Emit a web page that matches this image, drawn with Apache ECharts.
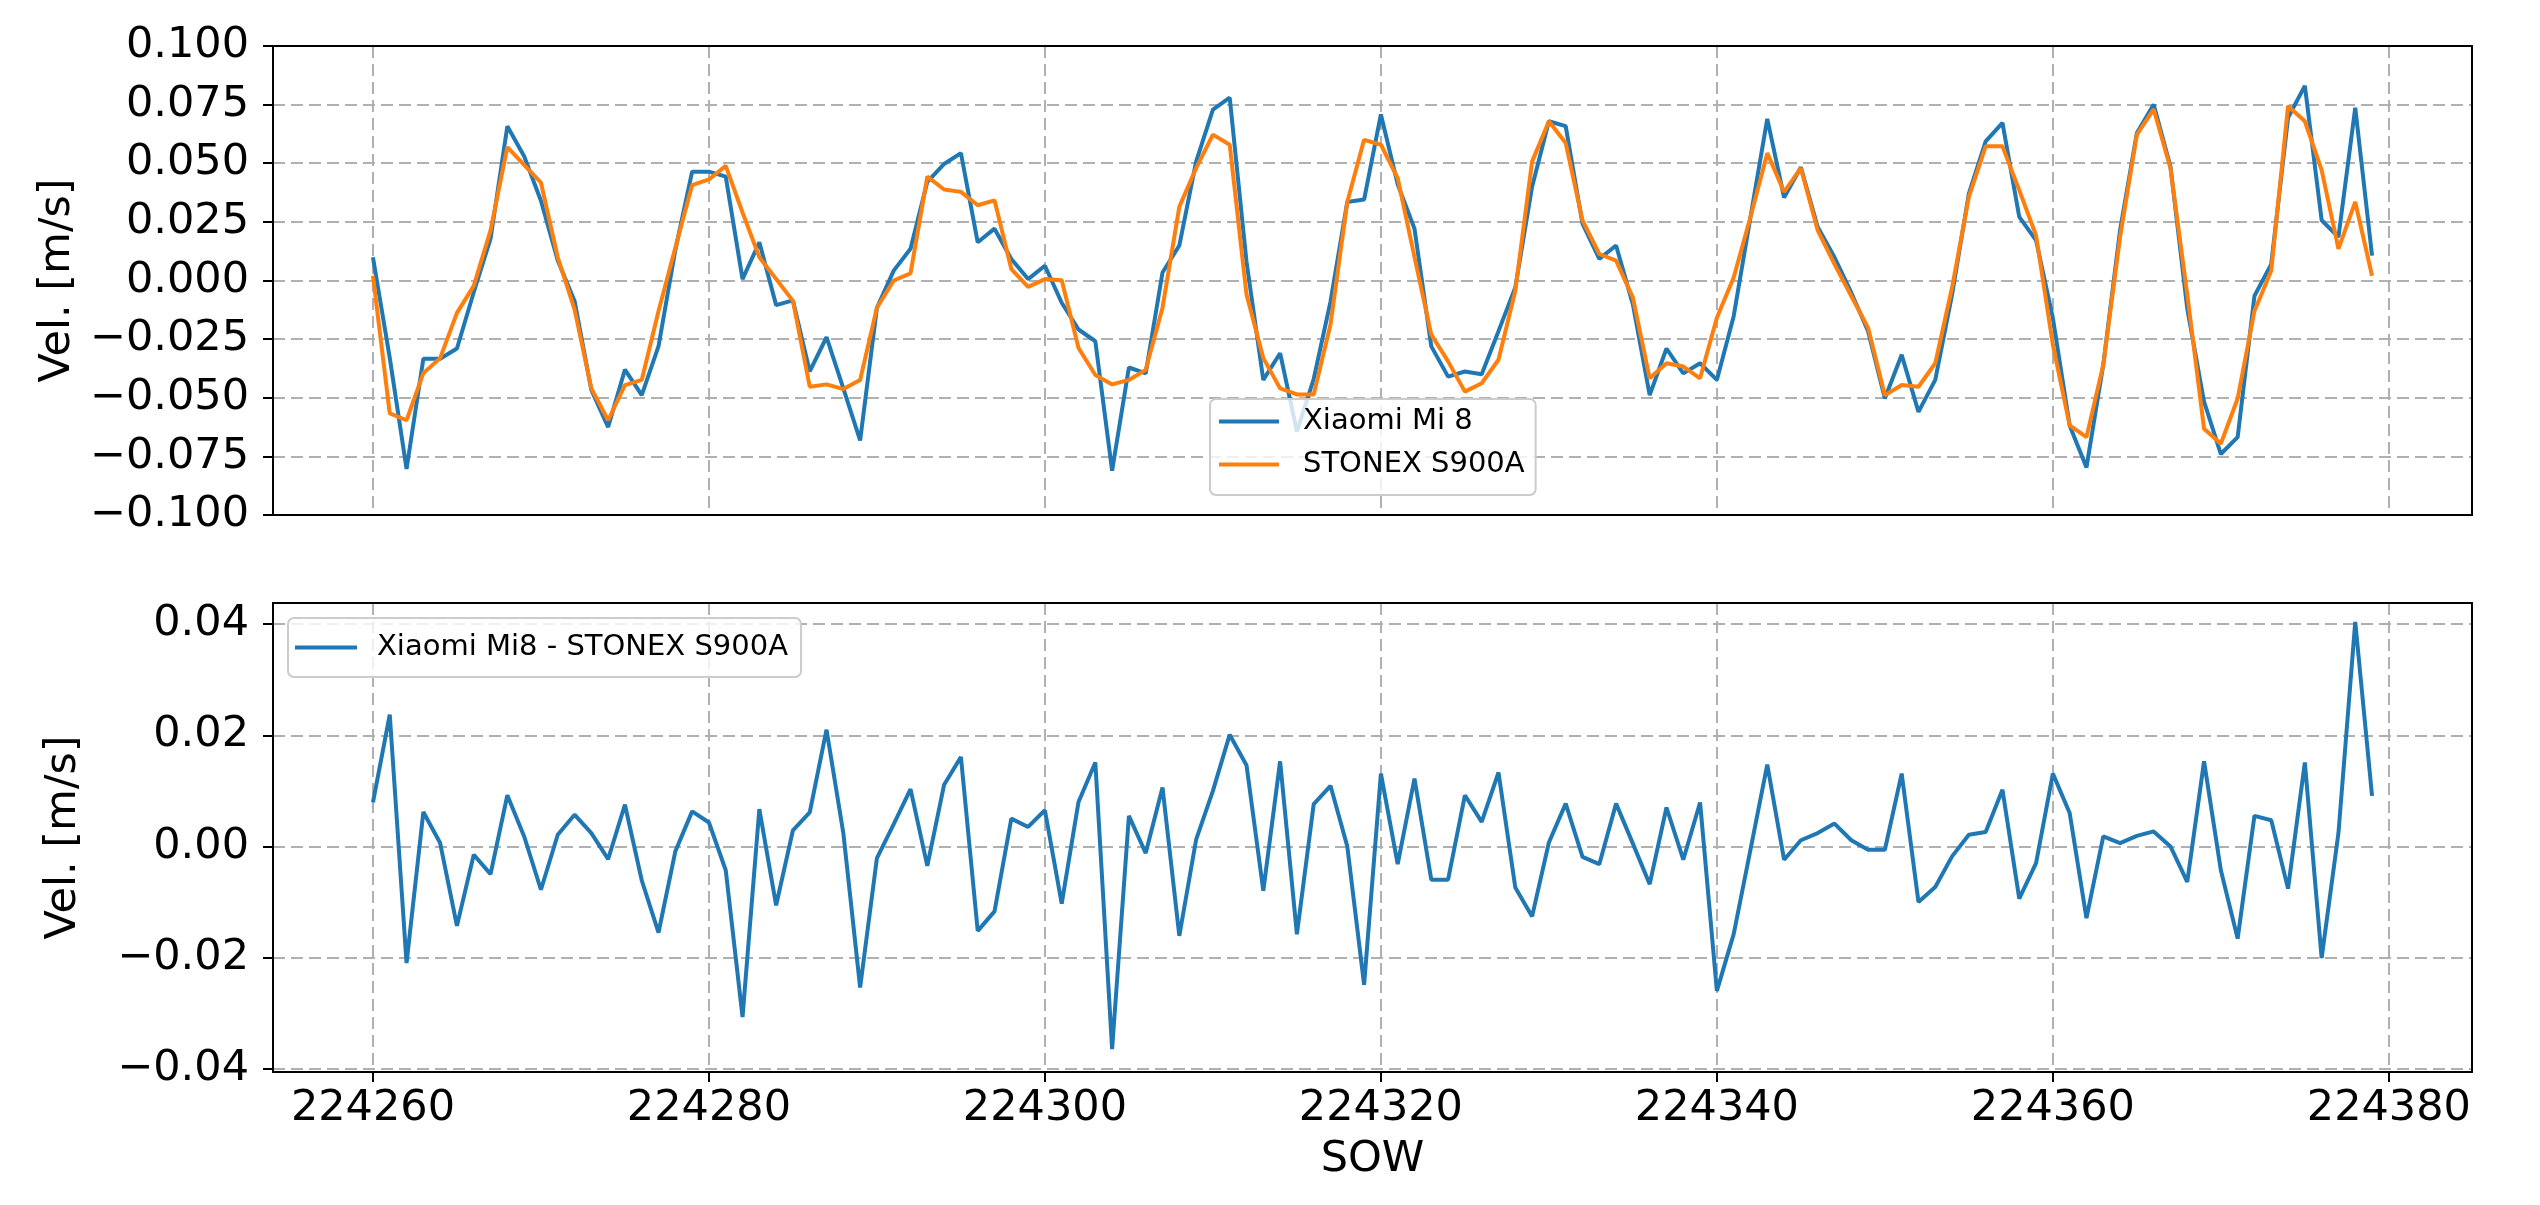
<!DOCTYPE html>
<html>
<head>
<meta charset="utf-8">
<script src="https://cdn.jsdelivr.net/npm/echarts@6/dist/echarts.min.js"></script>
<style>
html,body{margin:0;padding:0;background:#fff;}
#chart{width:2540px;height:1205px;}
</style>
</head>
<body>
<div id="chart"></div>
<script>
const sow = [
224260,224261,224262,224263,224264,224265,224266,224267,224268,224269,
224270,224271,224272,224273,224274,224275,224276,224277,224278,224279,
224280,224281,224282,224283,224284,224285,224286,224287,224288,224289,
224290,224291,224292,224293,224294,224295,224296,224297,224298,224299,
224300,224301,224302,224303,224304,224305,224306,224307,224308,224309,
224310,224311,224312,224313,224314,224315,224316,224317,224318,224319,
224320,224321,224322,224323,224324,224325,224326,224327,224328,224329,
224330,224331,224332,224333,224334,224335,224336,224337,224338,224339,
224340,224341,224342,224343,224344,224345,224346,224347,224348,224349,
224350,224351,224352,224353,224354,224355,224356,224357,224358,224359,
224360,224361,224362,224363,224364,224365,224366,224367,224368,224369,
224370,224371,224372,224373,224374,224375,224376,224377,224378,224379
];

const xiaomi = [
0.0099,-0.033,-0.0804,-0.0334,-0.0334,-0.029,-0.005,0.0178,0.0658,0.053,
0.034,0.0085,-0.0087,-0.0467,-0.0625,-0.038,-0.0489,-0.028,0.013,0.0464,
0.0464,0.0443,0.0006,0.0163,-0.0105,-0.0085,-0.0388,-0.0242,-0.046,-0.0682,
-0.0116,0.0042,0.0135,0.0421,0.0497,0.0543,0.0163,0.0221,0.0092,0.0006,
0.0063,-0.0095,-0.0209,-0.0259,-0.0811,-0.0371,-0.0396,0.0034,0.0149,0.0507,
0.0729,0.078,0.008,-0.0424,-0.031,-0.0644,-0.042,-0.009,0.0335,0.0345,
0.0708,0.041,0.0221,-0.0281,-0.041,-0.0388,-0.040,-0.0216,-0.003,0.040,
0.0679,0.0658,0.0242,0.0092,0.0149,-0.0102,-0.0489,-0.029,-0.0396,-0.0353,
-0.0424,-0.0152,0.027,0.0689,0.0354,0.0483,0.0228,0.0099,-0.0052,-0.0216,
-0.0503,-0.0317,-0.056,-0.0424,-0.006,0.0371,0.0593,0.0672,0.0271,0.0171,
-0.016,-0.0618,-0.0797,-0.036,0.0214,0.0629,0.075,0.0486,-0.012,-0.0517,
-0.074,-0.0668,-0.0066,0.007,0.0694,0.083,0.0257,0.0185,0.0737,0.0106
];

const stonex = [
0.002,-0.0567,-0.0596,-0.0395,-0.0331,-0.0138,-0.0023,0.0214,0.0569,0.0493,
0.0417,0.0099,-0.0123,-0.046,-0.0596,-0.0446,-0.0424,-0.013,0.014,0.0407,
0.0431,0.0489,0.029,0.0099,0.0006,-0.0087,-0.0453,-0.0443,-0.0463,-0.0424,
-0.0116,0.0,0.003,0.0443,0.0388,0.0378,0.0321,0.0342,0.0049,-0.0027,
0.0006,0.0001,-0.0288,-0.0403,-0.0443,-0.0424,-0.0381,-0.0116,0.0314,0.0479,
0.0622,0.0579,-0.006,-0.0331,-0.046,-0.0486,-0.0486,-0.0188,0.0335,0.06,
0.0579,0.0436,0.010,-0.0231,-0.0345,-0.0474,-0.0438,-0.0338,-0.0044,0.0507,
0.0679,0.0586,0.0256,0.0113,0.0085,-0.0073,-0.0417,-0.0353,-0.0367,-0.0417,
-0.0159,0.0013,0.0271,0.0543,0.0378,0.0479,0.0214,0.007,-0.0066,-0.0202,
-0.0489,-0.0446,-0.0453,-0.0353,-0.003,0.0357,0.0572,0.0572,0.0385,0.0192,
-0.0274,-0.0618,-0.0668,-0.036,0.0185,0.0622,0.073,0.0479,-0.006,-0.0632,
-0.0696,-0.0503,-0.013,0.0042,0.0744,0.0679,0.0471,0.0135,0.0335,0.002
];

const diff = [
0.0079,0.0237,-0.021,0.0062,0.0006,-0.0143,-0.0015,-0.005,0.0092,0.0018,
-0.0078,0.0021,0.0057,0.0024,-0.0023,0.0075,-0.0061,-0.0155,-0.0009,0.0063,
0.0043,-0.0043,-0.0307,0.0067,-0.0106,0.0029,0.0061,0.021,0.0024,-0.0254,
-0.0021,0.004,0.0103,-0.0035,0.0111,0.0161,-0.0152,-0.0117,0.005,0.0035,
0.0065,-0.0103,0.008,0.0151,-0.0365,0.0055,-0.0012,0.0106,-0.0161,0.0012,
0.010,0.0201,0.0146,-0.008,0.0153,-0.0158,0.0076,0.0109,0.0,-0.0249,
0.0131,-0.0032,0.0122,-0.006,-0.006,0.0092,0.0044,0.0133,-0.0074,-0.0126,
0.0007,0.0077,-0.0019,-0.0032,0.0077,0.0005,-0.0068,0.007,-0.0024,0.0079,
-0.026,-0.0158,-0.0006,0.0147,-0.0024,0.0011,0.0024,0.0041,0.0011,-0.0006,
-0.0006,0.0131,-0.01,-0.0073,-0.0018,0.0021,0.0026,0.0102,-0.0094,-0.003,
0.0131,0.006,-0.0129,0.0018,0.0006,0.0019,0.0027,0.0,-0.0064,0.0153,
-0.0043,-0.0166,0.0055,0.0047,-0.0076,0.0151,-0.0201,0.0024,0.0404,0.0091
];

const seriesNames = ['Xiaomi Mi 8', 'STONEX S900A', 'Xiaomi Mi8 - STONEX S900A'];
const yTitle = 'Vel. [m/s]';
const xTitle = 'SOW';

const FONT = 'DejaVu Sans';
const pair = (arr) => arr.map((v, i) => [sow[i], v]);
const fmt = (d) => (v) => {
  const s = Math.abs(v).toFixed(d);
  return (v < 0 && parseFloat(s) !== 0 ? '\u2212' : '') + s;
};

const GRID_LEFT = 273, GRID_RIGHT = 68;
const gridLine = { show: true, showMinLine: false, showMaxLine: false,
  lineStyle: { color: '#b0b0b0', width: 2, type: [12, 6] } };
const axisLineStyle = { show: true, onZero: false, lineStyle: { color: '#000', width: 2 } };
const tickStyle = { show: true, inside: false, length: 10, lineStyle: { color: '#000', width: 2 } };
const labelStyle = { color: '#000', fontSize: 43, fontFamily: FONT };
const nameStyle = { color: '#000', fontSize: 43, fontFamily: FONT };

const xBase = {
  type: 'value', min: 224254.05, max: 224384.95,
  splitNumber: 6, minInterval: 20, maxInterval: 20,
  splitLine: gridLine, axisLine: axisLineStyle
};
// frame-only axes (top and right spines)
const frameX = (g) => ({ gridIndex: g, type: 'value', position: 'top', min: 0, max: 1,
  axisLine: axisLineStyle, axisTick: { show: false }, axisLabel: { show: false }, splitLine: { show: false } });
const frameY = (g) => ({ gridIndex: g, type: 'value', position: 'right', min: 0, max: 1,
  axisLine: axisLineStyle, axisTick: { show: false }, axisLabel: { show: false }, splitLine: { show: false } });

const legendText = (pad) => ({ color: '#000', fontSize: 29, fontFamily: FONT, padding: [0, 0, 0, pad] });
const legendBox = {
  orient: 'vertical', icon: 'rect', itemHeight: 4, itemGap: 14,
  backgroundColor: 'rgba(255,255,255,0.8)', borderColor: '#cccccc', borderWidth: 2, borderRadius: 6
};

const option = {
  animation: false,
  backgroundColor: '#fff',
  textStyle: { fontFamily: FONT },
  grid: [
    { left: GRID_LEFT, right: GRID_RIGHT, top: 46, height: 469 },
    { left: GRID_LEFT, right: GRID_RIGHT, top: 603, height: 469 }
  ],
  xAxis: [
    Object.assign({}, xBase, { gridIndex: 0, axisTick: { show: false }, axisLabel: { show: false } }),
    Object.assign({}, xBase, {
      gridIndex: 1, axisTick: tickStyle,
      axisLabel: Object.assign({ margin: 15, formatter: (v) => String(Math.round(v)) }, labelStyle),
      name: xTitle, nameLocation: 'middle', nameGap: 66, nameTextStyle: nameStyle
    }),
    frameX(0), frameX(1)
  ],
  yAxis: [
    {
      gridIndex: 0, type: 'value', min: -0.1, max: 0.1, interval: 0.025,
      splitLine: gridLine, axisLine: axisLineStyle, axisTick: tickStyle,
      axisLabel: Object.assign({ margin: 24, formatter: fmt(3) }, labelStyle),
      name: yTitle, nameLocation: 'middle', nameGap: 188, nameTextStyle: nameStyle
    },
    {
      gridIndex: 1, type: 'value', min: -0.0406, max: 0.0438,
      splitNumber: 4, minInterval: 0.02, maxInterval: 0.02,
      splitLine: gridLine, axisLine: axisLineStyle, axisTick: tickStyle,
      axisLabel: Object.assign({ margin: 24, formatter: fmt(2) }, labelStyle),
      name: yTitle, nameLocation: 'middle', nameGap: 188, nameTextStyle: nameStyle
    },
    frameY(0), frameY(1)
  ],
  legend: [
    Object.assign({}, legendBox, { data: [seriesNames[0], seriesNames[1]], left: 1210, top: 399,
      itemWidth: 60, padding: [8, 11, 16, 9], textStyle: legendText(19) }),
    Object.assign({}, legendBox, { data: [seriesNames[2]], left: 288, top: 618,
      itemWidth: 62, padding: [15, 13, 15, 7], textStyle: legendText(15) })
  ],
  series: [
    { name: seriesNames[0], type: 'line', xAxisIndex: 0, yAxisIndex: 0, data: pair(xiaomi),
      showSymbol: false, symbol: 'none', color: '#1f77b4', lineStyle: { width: 4, color: '#1f77b4' } },
    { name: seriesNames[1], type: 'line', xAxisIndex: 0, yAxisIndex: 0, data: pair(stonex),
      showSymbol: false, symbol: 'none', color: '#ff7f0e', lineStyle: { width: 4, color: '#ff7f0e' } },
    { name: seriesNames[2], type: 'line', xAxisIndex: 1, yAxisIndex: 1, data: pair(diff),
      showSymbol: false, symbol: 'none', color: '#1f77b4', lineStyle: { width: 4, color: '#1f77b4' } }
  ]
};

const chart = echarts.init(document.getElementById('chart'), null, { renderer: 'canvas' });
chart.setOption(option);
</script>
</body>
</html>
